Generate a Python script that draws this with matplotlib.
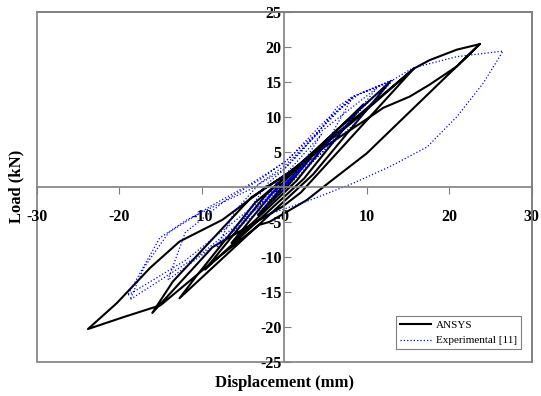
import matplotlib
matplotlib.use("Agg")
import matplotlib.pyplot as plt
from matplotlib.patches import Rectangle

# ANSYS hysteresis path (mm, kN)
ansys_x = [0, 3.2, 0.6, -3.2, -0.6,
           6.5, 1.5, -6.4, -1.4,
           9.6, 2.4, -9.6, -2.2,
           12.8, 3.5, -12.7, -10.5, -3.5,
           15.7, 6.5, 2.0, -0.2, -8.7, -16.0, -13.5, -4.0, 0.5, 8.0,
           15.7, 17.6, 20.9, 23.7,
           16.5, 10.0, 5.5, 2.7, -1.8, -3.0, -9.0, -15.0, -19.5, -23.8,
           -20.3, -16.3, -12.7, -7.5, -2.6, 0.5, 5.0, 10.4, 12.0, 15.2, 17.6, 20.9, 23.7]
ansys_y = [0, 4.2, 0.4, -4.0, -0.5,
           8.3, 0.9, -8.0, -0.8,
           11.8, 1.2, -11.8, -1.1,
           15.0, 1.8, -15.9, -12.5, -2.2,
           16.9, 5.0, -0.8, -2.8, -8.6, -18.0, -13.5, -1.5, 2.0, 9.0,
           16.9, 18.1, 19.6, 20.4,
           12.2, 4.8, 0.7, -1.9, -5.0, -5.4, -11.0, -16.9, -18.6, -20.3,
           -16.6, -11.6, -7.8, -4.7, -0.4, 2.0, 5.8, 10.0, 11.3, 12.9, 14.6, 17.2, 20.4]

# Experimental [11] path (mm, kN)
exp_x = [0, 2.5, 0.8, -2.5, -1.0,
         4.5, 1.5, -5.0, -2.0, 0.0,
         6.5, 8.3, 5.0, 2.0, -2.0, -8.2, -6.0, -3.0, 0.0, 4.0,
         11.2, 7.0, 3.0, -2.0, -8.0, -14.1, -12.0, -7.0, -3.0, 0.5, 5.0, 9.0,
         12.5, 8.0, 3.0, -3.0, -10.0, -18.7, -17.0, -14.0, -9.0, -4.0, 0.0, 4.3, 8.3,
         13.2, 8.5, 3.0, -4.0, -12.0, -19.0, -15.1, -11.8, -8.2, -4.2, -0.2, 1.9, 4.3, 6.4, 8.3,
         13.2, 15.6, 20.9, 26.5,
         26.1, 24.1, 20.9, 17.3, 12.8, 8.3, 3.1, -2.1]
exp_y = [0, 3.5, 0.8, -2.5, 0.3,
         7.5, 2.0, -4.5, 0.5, 2.5,
         11.0, 12.9, 6.0, 2.5, -1.5, -8.7, -3.5, 0.5, 3.0, 7.5,
         14.1, 8.0, 3.0, -2.5, -8.0, -13.3, -6.5, -1.8, 1.0, 4.0, 9.5, 13.2,
         14.8, 9.5, 3.5, -2.8, -9.5, -16.1, -11.5, -6.5, -2.8, 0.5, 3.5, 8.1, 12.9,
         15.3, 9.0, 3.2, -3.0, -10.5, -15.5, -7.3, -4.7, -2.6, -0.4, 2.4, 4.8, 8.1, 11.4, 12.9,
         15.3, 17.0, 18.6, 19.4,
         18.6, 14.8, 10.0, 5.7, 2.9, 0.5, -1.9, -4.0]

x_ticks = [-30, -20, -10, 0, 10, 20, 30]
y_ticks = [-25, -20, -15, -10, -5, 0, 5, 10, 15, 20, 25]

serif = "Liberation Serif"
grey = "#808080"
plt.rcParams["axes.unicode_minus"] = False

fig = plt.figure(figsize=(5.41, 3.96), dpi=100)
ax = fig.add_axes([0.068, 0.086, 0.915, 0.884])

ax.plot(ansys_x, ansys_y, color="black", lw=1.5, label="ANSYS")
ax.plot(exp_x, exp_y, color="#0000ff", lw=0.9, ls=":", label="Experimental [11]")

ax.set_xlim(-30, 30)
ax.set_ylim(-25, 25)
ax.set_xticks(x_ticks)
ax.set_yticks(y_ticks)

# axes cross at the origin
ax.spines["left"].set_position(("data", 0))
ax.spines["bottom"].set_position(("data", 0))
for s in ax.spines.values():
    s.set_color(grey)
    s.set_linewidth(1.2)
ax.add_patch(Rectangle((0, 0), 1, 1, transform=ax.transAxes, fill=False,
                       edgecolor=grey, lw=1.2, clip_on=False, zorder=0))

ax.tick_params(axis="x", direction="out", length=5, color=grey, pad=11)
ax.tick_params(axis="y", direction="in", length=5, color=grey, pad=2)
for lab in ax.get_xticklabels() + ax.get_yticklabels():
    lab.set_fontfamily(serif)
    lab.set_fontweight("bold")
    lab.set_fontsize(11.5)

fig.text(0.525, 0.033, "Displacement (mm)", ha="center", va="center",
         fontfamily=serif, fontweight="bold", fontsize=12)
fig.text(0.03, 0.53, "Load (kN)", ha="center", va="center", rotation=90,
         fontfamily=serif, fontweight="bold", fontsize=12)

leg = ax.legend(loc="lower right", bbox_to_anchor=(0.99, 0.02),
                prop={"family": serif, "size": 8}, fancybox=False,
                framealpha=1, edgecolor=grey, handlelength=2.8,
                handletextpad=0.5, borderpad=0.35, labelspacing=0.5)
leg.get_frame().set_linewidth(0.8)

fig.savefig("out.png", dpi=100)
